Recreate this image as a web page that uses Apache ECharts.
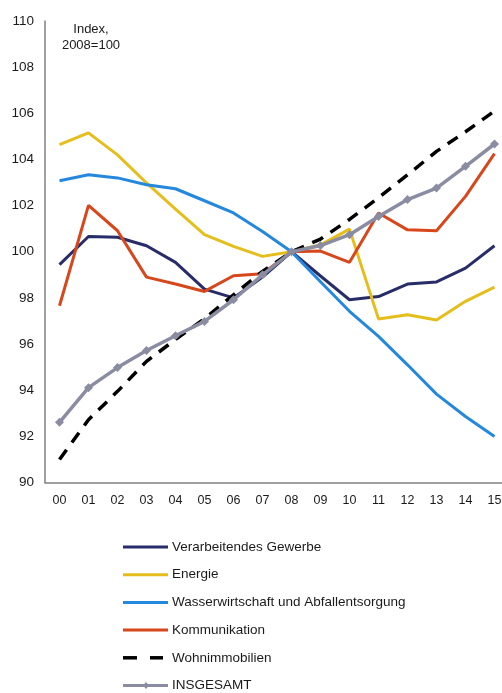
<!DOCTYPE html>
<html>
<head>
<meta charset="utf-8">
<script src="https://cdn.jsdelivr.net/npm/echarts@6/dist/echarts.min.js"></script>
<style>
  html, body { margin: 0; padding: 0; background: #fff; overflow: hidden; }
  #wrap { width: 502px; height: 693px; overflow: hidden; position: relative; }
  /* the plot runs a few pixels past the right edge, so the canvas is wider than the frame */
  #chart { width: 509px; height: 693px; position: absolute; left: 0; top: 0; }
</style>
</head>
<body>
<div id="wrap"><div id="chart"></div></div>
<script>
// Years 2000–2015, two-digit labels
const years = ['00','01','02','03','04','05','06','07','08','09','10','11','12','13','14','15'];
const yTicks = { min: 90, max: 110, step: 2 };

// Index series, 2008 = 100
const verarbeitendesGewerbe = [99.44, 100.66, 100.63, 100.26, 99.54, 98.38, 98.0, 98.9, 100, 98.95, 97.92, 98.06, 98.6, 98.69, 99.29, 100.26];
const energie = [104.64, 105.15, 104.2, 102.98, 101.85, 100.74, 100.23, 99.8, 100, 100.3, 100.98, 97.09, 97.27, 97.04, 97.85, 98.47];
const wasserwirtschaft = [103.08, 103.34, 103.2, 102.9, 102.73, 102.21, 101.68, 100.88, 100, 98.7, 97.42, 96.33, 95.1, 93.83, 92.86, 91.99];
const kommunikation = [97.66, 102.01, 100.91, 98.9, 98.6, 98.28, 98.96, 99.05, 100, 100.03, 99.54, 101.68, 100.95, 100.91, 102.4, 104.25];
const wohnimmobilien = [91.0, 92.72, 93.95, 95.25, 96.2, 97.1, 98.13, 99.15, 100, 100.55, 101.4, 102.34, 103.33, 104.35, 105.2, 106.1];
const insgesamt = [92.61, 94.11, 94.98, 95.72, 96.36, 96.98, 97.92, 99.0, 100, 100.27, 100.74, 101.53, 102.26, 102.76, 103.7, 104.67];

const seriesNames = ['Verarbeitendes Gewerbe', 'Energie', 'Wasserwirtschaft und Abfallentsorgung', 'Kommunikation', 'Wohnimmobilien', 'INSGESAMT'];

const FONT = '"Liberation Sans", Arial, sans-serif';
const TEXT = '#1a1a1a';

const styles = [
  { color: '#282c68', width: 3 },
  { color: '#e6be1c', width: 3 },
  { color: '#2388de', width: 3 },
  { color: '#d8461b', width: 3 },
  { color: '#000000', width: 3.5, dash: [12, 9] },
  { color: '#8a8ca2', width: 3.5, marker: true }
];
const seriesData = [verarbeitendesGewerbe, energie, wasserwirtschaft, kommunikation, wohnimmobilien, insgesamt];

const series = seriesNames.map(function (name, i) {
  const st = styles[i];
  return {
    name: name,
    type: 'line',
    data: seriesData[i],
    symbol: st.marker ? 'diamond' : 'none',
    showSymbol: !!st.marker,
    symbolSize: 9,
    lineStyle: { color: st.color, width: st.width, type: st.dash || 'solid' },
    itemStyle: { color: st.color },
    emphasis: { disabled: true },
    animation: false
  };
});

// Vertical key below the plot: a short line sample followed by the series name
const keyLeft = 123, keyLen = 45, keyTop = 547, keyStep = 27.7;
const keyGraphics = [];
seriesNames.forEach(function (name, i) {
  const st = styles[i];
  const y = keyTop + i * keyStep;
  if (st.dash) {
    keyGraphics.push({ type: 'line', shape: { x1: keyLeft, y1: y, x2: keyLeft + 14, y2: y }, style: { stroke: st.color, lineWidth: 3.5 }, silent: true });
    keyGraphics.push({ type: 'line', shape: { x1: keyLeft + 27, y1: y, x2: keyLeft + 40, y2: y }, style: { stroke: st.color, lineWidth: 3.5 }, silent: true });
  } else {
    keyGraphics.push({ type: 'line', shape: { x1: keyLeft, y1: y, x2: keyLeft + keyLen, y2: y }, style: { stroke: st.color, lineWidth: 3 }, silent: true });
  }
  if (st.marker) {
    const cx = keyLeft + 23;
    keyGraphics.push({ type: 'polygon', shape: { points: [[cx, y - 3.5], [cx + 3, y], [cx, y + 3.5], [cx - 3, y]] }, style: { fill: st.color }, silent: true });
  }
  keyGraphics.push({
    type: 'text', x: keyLeft + keyLen + 4, y: y, silent: true,
    style: { text: name, font: '13.5px ' + FONT, fill: TEXT, textVerticalAlign: 'middle', verticalAlign: 'middle' }
  });
});

const chart = echarts.init(document.getElementById('chart'), null, { renderer: 'canvas' });

chart.setOption({
  backgroundColor: '#ffffff',
  animation: false,
  textStyle: { fontFamily: FONT },
  grid: { left: 45, top: 21, right: 0, height: 461.5, containLabel: false },
  graphic: [
    {
      type: 'text', x: 91, y: 21, silent: true,
      style: { text: 'Index,\n2008=100', font: '13px ' + FONT, fill: TEXT, align: 'center', textAlign: 'center', lineHeight: 16 }
    }
  ].concat(keyGraphics),
  xAxis: {
    type: 'category',
    data: years,
    boundaryGap: true,
    axisLine: { show: true, lineStyle: { color: '#808080', width: 1.5 } },
    axisTick: { show: false },
    axisLabel: { color: TEXT, fontSize: 12.5, fontFamily: FONT, margin: 12, interval: 0 },
    splitLine: { show: false }
  },
  yAxis: {
    type: 'value',
    min: yTicks.min,
    max: yTicks.max,
    interval: yTicks.step,
    axisLine: { show: true, lineStyle: { color: '#808080', width: 1.5 } },
    axisTick: { show: false },
    axisLabel: { color: TEXT, fontSize: 13.5, fontFamily: FONT, margin: 11 },
    splitLine: { show: false }
  },
  series: series
});
</script>
</body>
</html>
